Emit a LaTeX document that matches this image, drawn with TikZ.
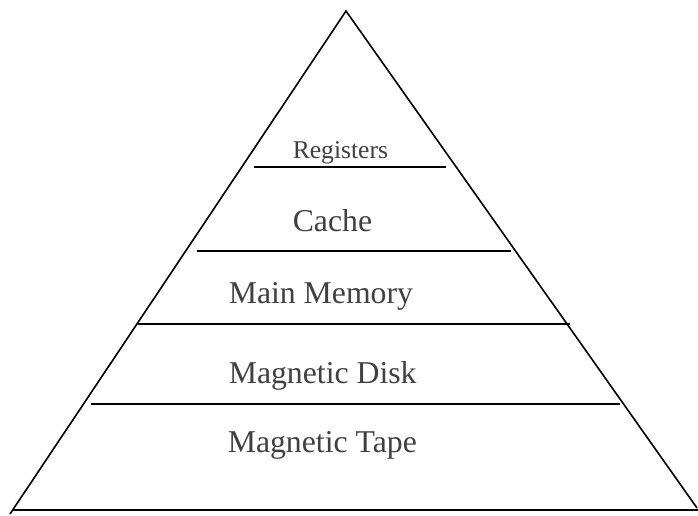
\documentclass[tikz,border=0pt]{standalone}
\usepackage{fontspec}
\setmainfont{Liberation Serif}
\usepackage{xcolor}
\definecolor{clText}{HTML}{404040}
\usepackage{tikz}
\usetikzlibrary{positioning}

\begin{document}
\begin{tikzpicture}[x=0.75pt,y=-0.75pt,line width=1.2pt,
  level/.style={font=\fontsize{23.8}{26}\selectfont,text=clText,anchor=base west,inner sep=0pt}]
  \useasboundingbox (0,0) rectangle (698,515);
  % pyramid outline
  \coordinate (apex) at (346,11);
  \coordinate (left) at (10,514);
  \coordinate (right) at (697,508);
  \draw (left) -- (apex) -- (right);
  \draw (13,510) -- (698,510);
  % level separators
  \draw (254,167) -- (446,167);
  \draw (197,251) -- (511,251);
  \draw (138,324) -- (570,324);
  \draw (91,404) -- (620,404);
  % level labels
  \node[level,font=\fontsize{19.2}{22}\selectfont] (reg) at (292,158) {Registers};
  \node[level] (cache) at (292,231) {Cache};
  \node[level] (main) at (228,303) {Main Memory};
  \node[level] (disk) at (228,383) {Magnetic Disk};
  \node[level] (tape) at (227,452) {Magnetic Tape};
\end{tikzpicture}
\end{document}
